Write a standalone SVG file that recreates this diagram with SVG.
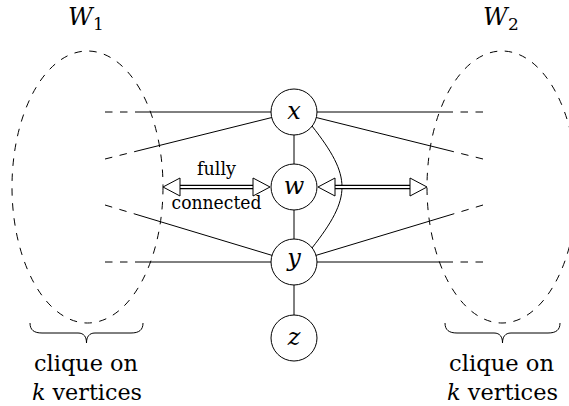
<svg xmlns="http://www.w3.org/2000/svg" width="569" height="406" viewBox="0 0 569 406">
<style>
  .ln{fill:none;stroke:#000;stroke-width:1}
  .dl{fill:none;stroke:#000;stroke-width:1;stroke-dasharray:7.5 7.5 7.5 7.5 1000}
  .el{fill:none;stroke:#000;stroke-width:1;stroke-dasharray:7.5 7.5}
  .nd{fill:#fff;stroke:#000;stroke-width:1}
  text{font-family:"DejaVu Serif","Liberation Serif","Noto Serif",serif;fill:#000}
  .m{font-style:italic;font-size:24px;text-anchor:middle}
  .t{font-size:23px;text-anchor:middle}
  .s{font-size:19px;text-anchor:middle}
  .dbo{fill:none;stroke:#000;stroke-width:4.4}
  .dbi{fill:none;stroke:#fff;stroke-width:2.2}
  .ah{fill:#fff;stroke:#000;stroke-width:1;stroke-linejoin:miter}
</style>
<g id="W1">
  <ellipse class="el" cx="87.5" cy="187" rx="75.5" ry="136"/>
  <text class="m" x="68" y="25" style="text-anchor:start">W</text>
  <text x="93" y="30" style="font-size:17px">1</text>
  <path class="ln" d="M30,323 C30,330 34,333 42,333 L78,333 C84,333 86.5,337 86.5,343 C86.5,337 89,333 95,333 L131,333 C139,333 143,330 143,323"/>
  <text class="t" x="86" y="371" textLength="104" lengthAdjust="spacingAndGlyphs">clique on</text>
  <text class="t" x="87" y="400" textLength="110" lengthAdjust="spacingAndGlyphs"><tspan font-style="italic">k</tspan> vertices</text>
</g>
<g id="W2">
  <ellipse class="el" cx="502" cy="187" rx="75" ry="136"/>
  <text class="m" x="483" y="25" style="text-anchor:start">W</text>
  <text x="508" y="30" style="font-size:17px">2</text>
  <path class="ln" d="M445,323 C445,330 449,333 457,333 L494,333 C500,333 502.5,337 502.5,343 C502.5,337 505,333 511,333 L548,333 C556,333 560,330 560,323"/>
  <text class="t" x="501.5" y="371" textLength="105" lengthAdjust="spacingAndGlyphs">clique on</text>
  <text class="t" x="502.5" y="400" textLength="111" lengthAdjust="spacingAndGlyphs"><tspan font-style="italic">k</tspan> vertices</text>
</g>
<g id="connectors">
  <path class="dl" d="M105,112 L294,112"/>
  <path class="dl" d="M105,159 L294,112"/>
  <path class="dl" d="M105,205 L294,262"/>
  <path class="dl" d="M105,262 L294,262"/>
  <path class="dl" d="M483,112 L294,112"/>
  <path class="dl" d="M483,159 L294,112"/>
  <path class="dl" d="M483,205 L294,262"/>
  <path class="dl" d="M483,262 L294,262"/>
  <path class="ln" d="M294,112 L294,338"/>
  <path class="ln" d="M312,126 C352,177 352,197 312,248"/>
  <path class="dbo" d="M179,187 L254,187"/>
  <path class="dbi" d="M179,187 L254,187"/>
  <polygon class="ah" points="163,187 180,178 180,196"/>
  <polygon class="ah" points="270,187 253,178 253,196"/>
  <path class="dbo" d="M334,187 L411,187"/>
  <path class="dbi" d="M334,187 L411,187"/>
  <polygon class="ah" points="318,187 335,178 335,196"/>
  <polygon class="ah" points="427,187 410,178 410,196"/>
  <text class="s" x="216.5" y="175" textLength="39" lengthAdjust="spacingAndGlyphs">fully</text>
  <text class="s" x="216.5" y="209" textLength="90" lengthAdjust="spacingAndGlyphs">connected</text>
</g>
<g id="x"><circle class="nd" cx="294" cy="112" r="23"/><text class="m" x="294" y="119">x</text></g>
<g id="w"><circle class="nd" cx="294" cy="187" r="23"/><text class="m" x="294" y="194">w</text></g>
<g id="y"><circle class="nd" cx="294" cy="262" r="23"/><text class="m" x="294" y="266">y</text></g>
<g id="z"><circle class="nd" cx="294" cy="338" r="23"/><text class="m" x="294" y="345">z</text></g>
</svg>
